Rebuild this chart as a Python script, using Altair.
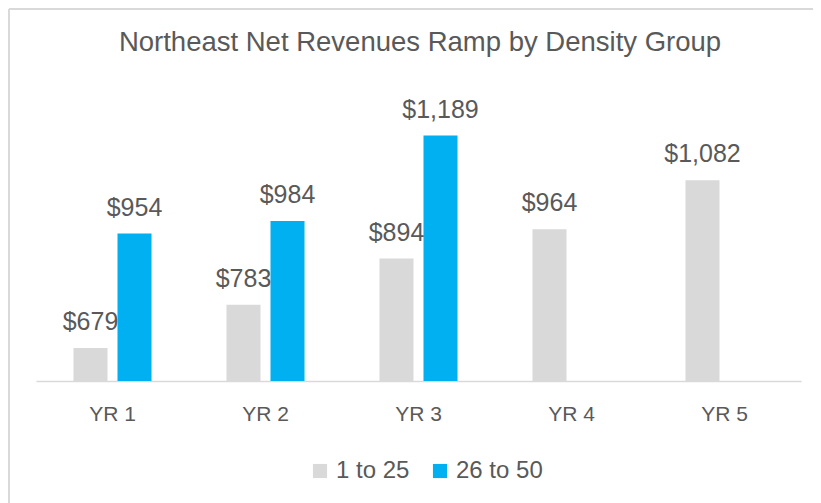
import altair as alt
import pandas as pd

years = ["YR 1", "YR 2", "YR 3", "YR 4", "YR 5"]
groups = ["1 to 25", "26 to 50"]
vals_1to25 = [679, 783, 894, 964, 1082]
vals_26to50 = [954, 984, 1189, None, None]
title_text = "Northeast Net Revenues Ramp by Density Group"

rows = []
for y, a, b in zip(years, vals_1to25, vals_26to50):
    rows.append({"year": y, "group": groups[0], "value": a})
    if b is not None:
        rows.append({"year": y, "group": groups[1], "value": b})
df = pd.DataFrame(rows)

FONT = "Liberation Sans"
TXT = "#595959"

x = alt.X("year:N", sort=years, title=None,
          scale=alt.Scale(paddingInner=0.49, paddingOuter=0.245),
          axis=alt.Axis(labelAngle=0, ticks=False, domainColor="#d9d9d9",
                        domainWidth=1.5, labelFont=FONT, labelFontSize=21,
                        labelColor=TXT, labelPadding=22))
xo = alt.XOffset("group:N", sort=groups,
                 scale=alt.Scale(paddingInner=0.227, paddingOuter=0))
y = alt.Y("value:Q", scale=alt.Scale(domain=[600, 1200]), axis=None)

bars = alt.Chart(df).mark_bar(clip=True).encode(
    x=x, xOffset=xo, y=y,
    color=alt.Color("group:N", sort=groups,
                    scale=alt.Scale(domain=groups, range=["#d9d9d9", "#00b0f0"]),
                    legend=alt.Legend(title=None, orient="none", direction="horizontal",
                                      legendX=272, legendY=328,
                                      symbolType="square", symbolSize=200,
                                      symbolStrokeWidth=0,
                                      labelFont=FONT, labelFontSize=24,
                                      labelColor=TXT, columnPadding=18,
                                      labelOffset=4)),
)

labels = alt.Chart(df).mark_text(font=FONT, fontSize=25, color=TXT,
                                 baseline="alphabetic", dy=-18).encode(
    x=x, xOffset=xo, y=y,
    text=alt.Text("value:Q", format="$,.0f"),
)

title = alt.Chart(pd.DataFrame({"t": [title_text]})).mark_text(
    font=FONT, fontSize=27.5, color=TXT, align="center", baseline="middle"
).encode(x=alt.value(384), y=alt.value(-88), text="t:N")

border_top = alt.Chart(df).mark_rule(color="#d9d9d9", strokeWidth=2).encode(
    x=alt.value(-27), x2=alt.value(800), y=alt.value(-122))
border_left = alt.Chart(df).mark_rule(color="#d9d9d9", strokeWidth=2).encode(
    x=alt.value(-27), y=alt.value(-122), y2=alt.value(400))

chart = alt.layer(bars, labels, title, border_top, border_left).properties(
    width=765, height=250,
    autosize=alt.AutoSizeParams(type="none"),
    padding={"left": 28, "top": 123, "right": 12, "bottom": 122},
).configure(background="white").configure_view(stroke=None)

chart.save("out.html", embed_options={"renderer": "svg", "actions": False})
